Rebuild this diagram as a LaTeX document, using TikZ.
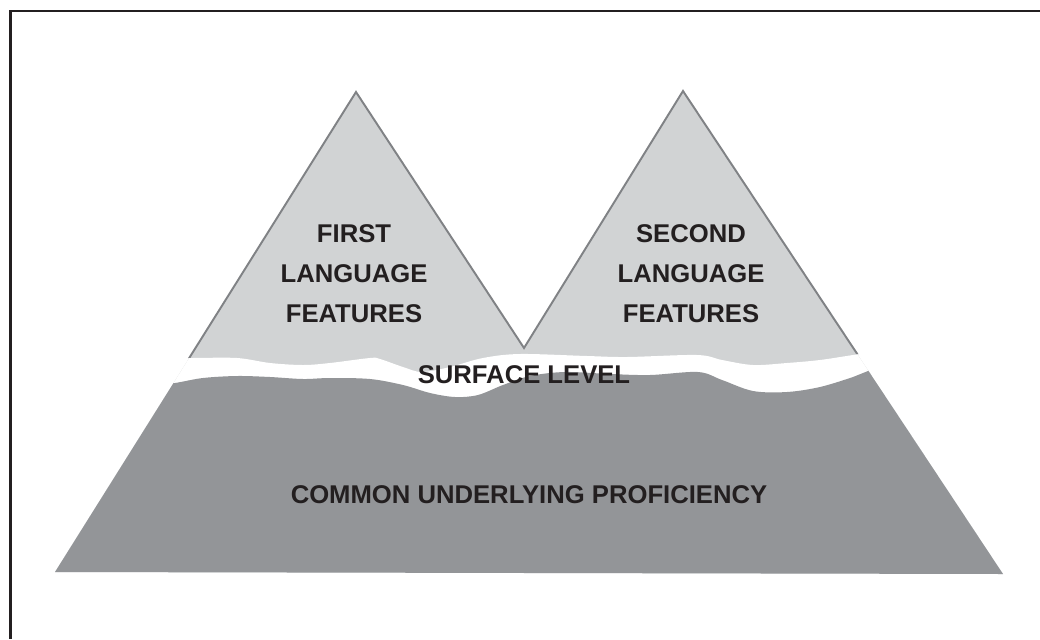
\documentclass[tikz,border=0pt]{standalone}
\usepackage{fontspec}
\setmainfont{Liberation Sans}
\usepackage{xcolor}
\usetikzlibrary{positioning}
\definecolor{rocklight}{RGB}{209,211,212}
\definecolor{rockdark}{RGB}{147,149,152}
\definecolor{rockedge}{RGB}{128,130,133}
\definecolor{inkdark}{RGB}{35,31,32}
\newcommand{\upperwave}{(150,358) (192,358) (237,358) (270,363) (303,365) (330,363)
  (370,358) (380,359) (403,367) (422,372) (450,367) (483,358) (520,354) (587,356)
  (627,357) (697,355) (722,360) (753,365) (787,363) (820,360) (853,355) (900,348)}
\newcommand{\lowerwave}{(150,386) (175,383) (203,378) (237,376) (270,377) (303,379)
  (330,378) (370,379) (403,385) (430,393) (455,397) (478,395) (503,385) (530,376)
  (565,372) (610,374) (650,375) (698,372) (722,380) (753,391) (787,392) (820,387)
  (853,377) (868,371) (900,362)}

\begin{document}
\begin{tikzpicture}[x=0.02cm,y=-0.02cm,
  lbl/.style={font=\fontsize{14.6pt}{22.8pt}\selectfont\bfseries,text=inkdark,
              align=center,inner sep=0pt},
  wave/.style={smooth,tension=0.55}]
\useasboundingbox (0,0) rectangle (1040,639);
\draw[inkdark,line width=1.7pt] (1040,11) -- (10.5,11) -- (10.5,639);

\coordinate (baseL)  at (55,572);
\coordinate (peakL)  at (356,92);
\coordinate (valley) at (524,348);
\coordinate (peakR)  at (683,91);
\coordinate (baseR)  at (1003,574);

% twin peaks, outline only above the water line
\fill[rocklight] (baseL) -- (peakL) -- (valley) -- (peakR) -- (baseR) -- cycle;
\begin{scope}
  \clip (0,0) -- (0,358) -- plot[wave] coordinates {\upperwave} -- (1040,348) -- (1040,0) -- cycle;
  \draw[rockedge,line width=1.1pt] (baseL) -- (peakL) -- (valley) -- (peakR) -- (baseR);
\end{scope}
\begin{scope}
  \clip (baseL) -- (peakL) -- (valley) -- (peakR) -- (baseR) -- cycle;
  \fill[white] plot[wave] coordinates {\upperwave} -- (1040,348) -- (1040,639) -- (0,639) -- (0,358) -- cycle;
  \fill[rockdark] plot[wave] coordinates {\lowerwave} -- (1040,362) -- (1040,639) -- (0,639) -- (0,386) -- cycle;
\end{scope}

\node[lbl] (first)   at (354,274)   {FIRST\\LANGUAGE\\FEATURES};
\node[lbl] (second)  at (691,274)   {SECOND\\LANGUAGE\\FEATURES};
\node[lbl] (surface) at (524,374.5) {SURFACE LEVEL};
\node[lbl] (cup)     at (529,495)   {COMMON UNDERLYING PROFICIENCY};
\end{tikzpicture}
\end{document}
